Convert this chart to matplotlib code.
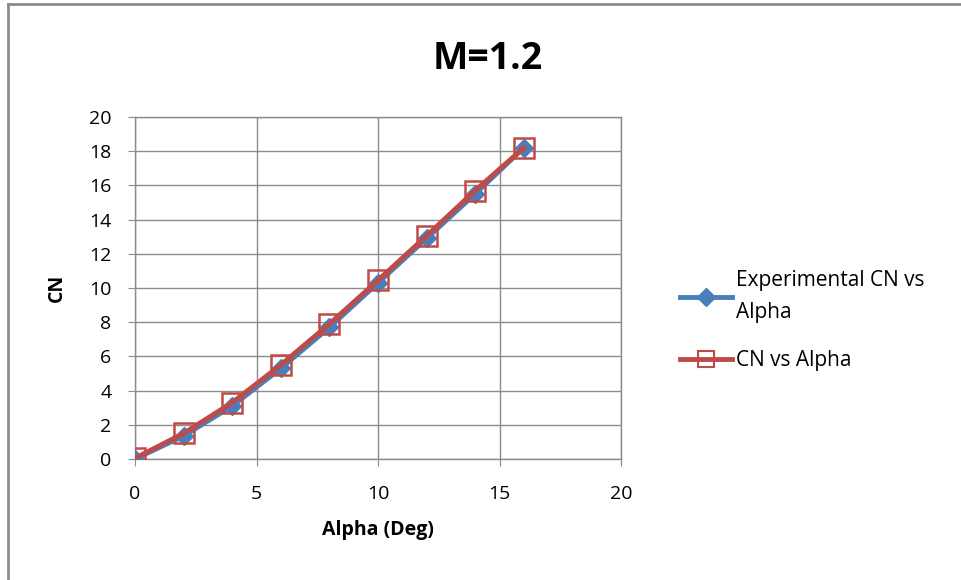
import matplotlib.pyplot as plt
from matplotlib.lines import Line2D

# Data
alpha = [0, 2, 4, 6, 8, 10, 12, 14, 16]
cn_experimental = [0.0, 1.35, 3.1, 5.3, 7.7, 10.3, 12.9, 15.5, 18.2]
cn_predicted = [0.05, 1.5, 3.3, 5.5, 7.9, 10.45, 13.05, 15.7, 18.2]

plt.rcParams['font.family'] = ['Open Sans', 'DejaVu Sans']

blue = '#4a7ebb'
red = '#be4b48'
grid_gray = '#8c8c8c'

fig = plt.figure(figsize=(9.61, 5.80), dpi=100)
ax = fig.add_axes([0.1405, 0.2086, 0.5057, 0.5897])

ax.plot(alpha, cn_experimental, color=blue, lw=3.5, marker='D', ms=9,
        mfc=blue, mec=blue, zorder=3)
ax.plot(alpha, cn_predicted, color=red, lw=3.5, marker='s', ms=14,
        mfc='none', mec=red, mew=1.8, zorder=4)

ax.set_xlim(0, 20)
ax.set_ylim(0, 20)
ax.set_xticks(range(0, 21, 5))
ax.set_yticks(range(0, 21, 2))
ax.grid(True, color=grid_gray, lw=1)
ax.set_axisbelow(True)
for s in ax.spines.values():
    s.set_color(grid_gray)
    s.set_linewidth(1)
ax.tick_params(direction='out', length=5, color=grid_gray, labelsize=14)
ax.tick_params(axis='y', pad=12)
ax.tick_params(axis='x', pad=14)

ax.set_xlabel('Alpha (Deg)', fontsize=14, fontweight='bold', labelpad=12)
ax.set_ylabel('CN', fontsize=14, fontweight='bold', labelpad=16)
fig.text(0.508, 0.898, 'M=1.2', ha='center', va='center', fontsize=27,
         fontweight='bold')

handles = [
    Line2D([], [], color=blue, lw=3.5, marker='D', ms=9, mfc=blue, mec=blue),
    Line2D([], [], color=red, lw=3.5, marker='s', ms=11, mfc='none',
           mec=red, mew=1.5),
]
leg = fig.legend(handles, ['Experimental CN vs\nAlpha', 'CN vs Alpha'],
                 loc='upper left', bbox_to_anchor=(0.688, 0.567),
                 frameon=False, fontsize=15, handlelength=2.5,
                 handletextpad=0.2, labelspacing=1.3)
for t in leg.get_texts():
    t.set_linespacing(1.7)

# chart border (left and top edges visible)
fig.add_artist(Line2D([0.0085, 0.0085], [0, 0.993], color='#8c8c8c', lw=2,
                      transform=fig.transFigure))
fig.add_artist(Line2D([0.0085, 1], [0.993, 0.993], color='#8c8c8c', lw=2,
                      transform=fig.transFigure))

fig.savefig('out.png', dpi=100)
